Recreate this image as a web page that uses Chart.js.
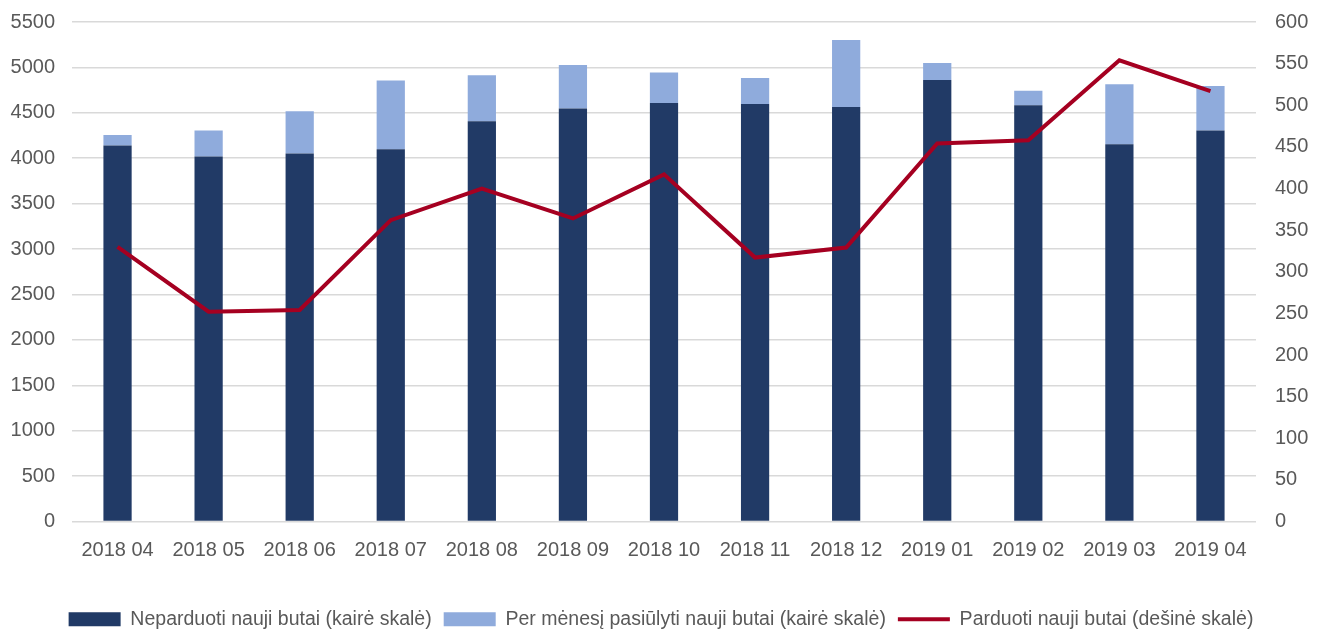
<!DOCTYPE html>
<html>
<head>
<meta charset="utf-8">
<script src="https://cdn.jsdelivr.net/npm/chart.js@4"></script>
<style>
  html, body { margin: 0; padding: 0; background: #fff; }
  #wrap { width: 1322px; height: 634px; }
</style>
</head>
<body>
<div id="wrap"><canvas id="bar-chart"></canvas></div>
<script>
var months = ["2018 04","2018 05","2018 06","2018 07","2018 08","2018 09","2018 10","2018 11","2018 12","2019 01","2019 02","2019 03","2019 04"];
var unsold = [4140,4018,4051,4100,4407,4547,4609,4598,4565,4862,4583,4155,4305];
var offered = [117,286,467,755,506,480,334,286,737,187,161,659,491];
var sold = [330,252,254,362,400,364,417,317,329,454,458,554,517];

var font = "'Liberation Sans', Arial, sans-serif";
var grey = "#595959";
var legendOrder = [1, 2, 0];

new Chart(document.getElementById("bar-chart"), {
  type: 'bar',
  data: {
    labels: months,
    datasets: [{
        type: 'line',
        label: "Parduoti nauji butai (dešinė skalė)",
        data: sold,
        yAxisID: 'y1',
        borderColor: "#A50021",
        backgroundColor: "#A50021",
        borderWidth: 4,
        pointRadius: 0,
        pointStyle: 'line',
        tension: 0,
        fill: false,
        order: 0
      }, {
        label: "Neparduoti nauji butai (kairė skalė)",
        data: unsold,
        backgroundColor: "#213A66",
        pointStyle: 'rect',
        stack: 's',
        order: 1
      }, {
        label: "Per mėnesį pasiūlyti nauji butai (kairė skalė)",
        data: offered,
        backgroundColor: "#8FABDC",
        pointStyle: 'rect',
        stack: 's',
        order: 1
      }
    ]
  },
  options: {
    responsive: true,
    maintainAspectRatio: false,
    animation: false,
    layout: { padding: { top: 22, left: 0, right: 0, bottom: -5 } },
    datasets: { bar: { barPercentage: 0.31, categoryPercentage: 1 } },
    scales: {
      x: {
        stacked: true,
        grid: { display: false, drawTicks: false },
        border: { display: false },
        ticks: { color: grey, font: { family: font, size: 20 }, padding: 17, maxRotation: 0 },
        afterFit: function(s) { s.height = 76; }
      },
      y: {
        stacked: true,
        min: 0, max: 5500,
        grid: { color: "#D9D9D9", lineWidth: 1.5, drawTicks: false },
        border: { display: false },
        ticks: { stepSize: 500, color: grey, font: { family: font, size: 20 }, padding: 17,
                 callback: function(v) { return String(v); } },
        afterFit: function(s) { s.width = 72; s.paddingTop = 0; s.paddingBottom = 0; }
      },
      y1: {
        position: 'right',
        min: 0, max: 600,
        grid: { display: false, drawTicks: false },
        border: { display: false },
        ticks: { stepSize: 50, color: grey, font: { family: font, size: 20 }, padding: 19,
                 callback: function(v) { return String(v); } },
        afterFit: function(s) { s.width = 66; s.paddingTop = 0; s.paddingBottom = 0; }
      }
    },
    plugins: {
      tooltip: { enabled: false },
      legend: {
        position: 'bottom',
        labels: {
          sort: function(a, b) { return legendOrder.indexOf(a.datasetIndex) - legendOrder.indexOf(b.datasetIndex); },
          usePointStyle: true,
          pointStyleWidth: 52,
          boxHeight: 14,
          padding: 12,
          color: grey,
          font: { family: font, size: 19.5 }
        }
      }
    }
  }
});
</script>
</body>
</html>
